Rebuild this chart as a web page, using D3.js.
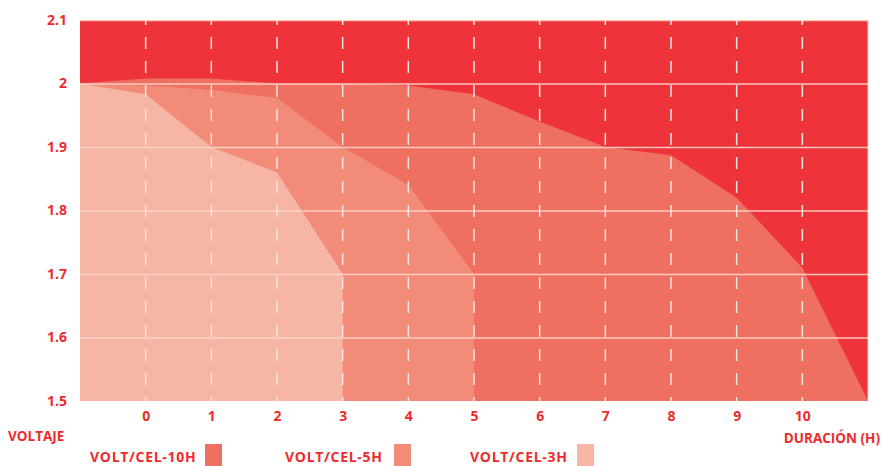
<!DOCTYPE html>
<html>
<head>
<meta charset="utf-8">
<script src="https://cdn.jsdelivr.net/npm/d3@7"></script>
<style>
  body { margin: 0; background: #fff; }
  text { font-family: "Open Sans", sans-serif; font-weight: 700; fill: #ED2B2E; }
</style>
</head>
<body>
<script>
// discharge curves, voltage per cell vs hours
var hours = [-1, 0, 1, 2, 3, 4, 5, 6, 7, 8, 9, 10, 11];
var volt10h = [2.0, 2.008, 2.008, 2.0, 2.0, 1.997, 1.983, 1.94, 1.9, 1.887, 1.82, 1.71, 1.5];
var volt5h = [2.0, 1.997, 1.99, 1.977, 1.9, 1.84, 1.7];
var volt3h = [2.0, 1.983, 1.9, 1.86, 1.7];
var xTicks = [0, 1, 2, 3, 4, 5, 6, 7, 8, 9, 10];
var yTicks = [1.5, 1.6, 1.7, 1.8, 1.9, 2, 2.1];
var legendNames = ["VOLT/CEL-10H", "VOLT/CEL-5H", "VOLT/CEL-3H"];

var W = 883, H = 466;
var margin = {top: 20, right: 15, bottom: 65, left: 80},
    width = W - margin.left - margin.right,
    height = H - margin.top - margin.bottom;

var x = d3.scaleLinear().domain([-1, 11]).range([0, width]);
var y = d3.scaleLinear().domain([1.5, 2.1]).range([height, 0]);

var colors = ["#EF6F60", "#F28C78", "#F7B5A5"];

var svg = d3.select("body").append("svg")
    .attr("width", W)
    .attr("height", H);

var g = svg.append("g")
    .attr("transform", "translate(" + margin.left + "," + margin.top + ")");

g.append("rect")
    .attr("width", width)
    .attr("height", height)
    .attr("fill", "#EE343A");

var area = d3.area()
    .x(function(d) { return x(d.h); })
    .y0(y(1.5))
    .y1(function(d) { return y(d.v); });

var series = [volt10h, volt5h, volt3h].map(function(vals) {
  return vals.map(function(v, i) { return {h: hours[i], v: v}; });
});

g.selectAll(".layer")
    .data(series)
  .enter().append("path")
    .attr("class", "layer")
    .attr("d", area)
    .attr("fill", function(d, i) { return colors[i]; });

// horizontal grid
g.append("g")
    .call(d3.axisLeft(y).tickValues(yTicks.filter(function(t) { return t > 1.5; })).tickSize(-width).tickFormat(""))
    .call(function(s) { s.select(".domain").remove(); })
    .selectAll("line")
      .attr("stroke", "#FBD5CC")
      .attr("stroke-width", 1.5)
      .attr("stroke-opacity", 0.9);

// dashed verticals
g.append("g")
    .selectAll("line")
    .data(xTicks)
  .enter().append("line")
    .attr("x1", function(d) { return x(d); })
    .attr("x2", function(d) { return x(d); })
    .attr("y1", 0)
    .attr("y2", height)
    .attr("stroke", "#FCE3DC")
    .attr("stroke-width", 1.5)
    .attr("stroke-dasharray", "12,12")
    .attr("stroke-dashoffset", 7);

// right edge
g.append("line")
    .attr("x1", width).attr("x2", width)
    .attr("y1", 0).attr("y2", height)
    .attr("stroke", "#FBD5CC").attr("stroke-width", 1);

// y labels
var yAxis = g.append("g")
    .call(d3.axisLeft(y).tickValues(yTicks).tickSize(0).tickPadding(13)
      .tickFormat(function(d) { return d === 2 ? "2" : d3.format(".1f")(d); }));
yAxis.select(".domain").remove();
yAxis.selectAll("text")
    .attr("font-size", 14)
    .style("font-family", "'Open Sans', sans-serif")
    .style("font-weight", 700)
    .attr("fill", "#ED2B2E");

// x labels
var xAxis = g.append("g")
    .attr("transform", "translate(0," + height + ")")
    .call(d3.axisBottom(x).tickValues(xTicks).tickSize(0).tickPadding(10));
xAxis.select(".domain").remove();
xAxis.selectAll("text")
    .attr("font-size", 14)
    .style("font-family", "'Open Sans', sans-serif")
    .style("font-weight", 700)
    .attr("fill", "#ED2B2E");

svg.append("text")
    .attr("x", 8).attr("y", 441)
    .attr("font-size", 13.5)
    .text("VOLTAJE");

svg.append("text")
    .attr("x", 880).attr("y", 443)
    .attr("text-anchor", "end")
    .attr("font-size", 13.5)
    .text("DURACIÓN (H)");

// legend
var legendX = [90, 285, 470];
var swatchX = [205, 394, 577];

svg.selectAll(".leg-text")
    .data(legendNames)
  .enter().append("text")
    .attr("class", "leg-text")
    .attr("x", function(d, i) { return legendX[i]; })
    .attr("y", 462)
    .attr("font-size", 14)
    .attr("letter-spacing", 0.7)
    .text(function(d) { return d; });

svg.selectAll(".leg-box")
    .data(legendNames)
  .enter().append("rect")
    .attr("class", "leg-box")
    .attr("x", function(d, i) { return swatchX[i]; })
    .attr("y", 444)
    .attr("width", 17)
    .attr("height", 22)
    .attr("fill", function(d, i) { return colors[i]; });
</script>
</body>
</html>
